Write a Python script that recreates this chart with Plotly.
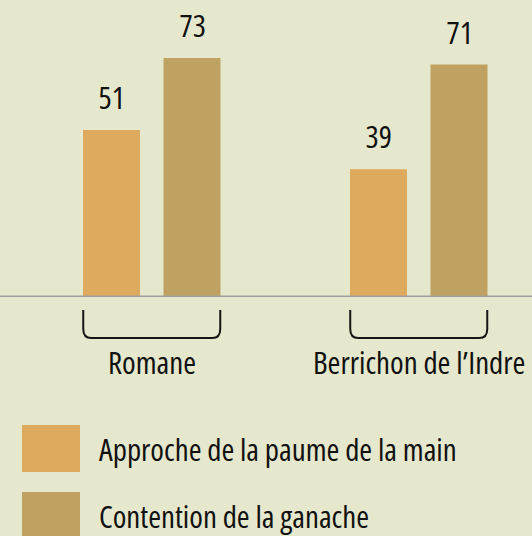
import plotly.graph_objects as go

categories = ["Romane", "Berrichon de l\u2019Indre"]
series_names = ["Approche de la paume de la main", "Contention de la ganache"]
approche = [51, 39]
contention = [73, 71]
series_values = [approche, contention]
colors = ["#DEAA5E", "#BFA262"]

W, H = 532, 536
FONT = "Open Sans"
FS = 31
TXT = dict(family=FONT, size=FS, color="#111111", weight=500)

fig = go.Figure()
for name, vals, col in zip(series_names, series_values, colors):
    fig.add_trace(go.Bar(x=categories, y=vals, name=name, marker=dict(color=col, line=dict(width=0)),
                         showlegend=False, hoverinfo="skip"))

offsets = [-40.25, 40.25]
for vals, off in zip(series_values, offsets):
    for c, v in zip(categories, vals):
        fig.add_annotation(x=c, y=v, xref="x", yref="y", text=str(v), showarrow=False,
                           xshift=off, yanchor="bottom", yshift=10, font=TXT)

fig.add_shape(type="line", xref="paper", yref="y", x0=0, x1=1, y0=0, y1=0,
              line=dict(color="#A0A0A0", width=3))

half = 0.2566
rx = 0.03
ytop = (H - 310) / H
ybot = (H - 338) / H
ry = 9 / H
for i, c in enumerate(categories):
    x0, x1 = i - half, i + half
    path = (f"M {x0},{ytop} L {x0},{ybot + ry} Q {x0},{ybot} {x0 + rx},{ybot} "
            f"L {x1 - rx},{ybot} Q {x1},{ybot} {x1},{ybot + ry} L {x1},{ytop}")
    fig.add_shape(type="path", path=path, xref="x", yref="paper",
                  line=dict(color="#151515", width=2))
    fig.add_annotation(x=c, y=(H - 362) / H, xref="x", yref="paper", text=c, showarrow=False,
                       yanchor="middle", font=TXT)

leg_rows = [(425, 472), (492, 540)]
for (t, b), name, col in zip(leg_rows, series_names, colors):
    fig.add_shape(type="rect", xref="paper", yref="paper", x0=22 / W, x1=80 / W,
                  y0=(H - b) / H, y1=(H - t) / H, fillcolor=col, line=dict(width=0))
    fig.add_annotation(x=97 / W, y=(H - (t + 24)) / H, xref="paper", yref="paper", text=name,
                       showarrow=False, xanchor="left", align="left", yanchor="middle", font=TXT)

cx0 = 151.75
unit = 267.0
fig.update_layout(
    width=W, height=H,
    margin=dict(l=0, r=0, t=0, b=0),
    paper_bgcolor="#E6E8CD", plot_bgcolor="#E6E8CD",
    barmode="group", bargap=0.397, bargroupgap=0.292,
    xaxis=dict(range=[-cx0 / unit, (W - cx0) / unit], showticklabels=False, showgrid=False,
               zeroline=False, showline=False, ticks=""),
    yaxis=dict(domain=[(H - 297) / H, 1], range=[0, 297 / 3.274], showticklabels=False,
               showgrid=False, zeroline=False, showline=False),
)

post = """
document.querySelectorAll('text.annotation-text').forEach(function(t){
  t.style.fontStretch = '75%';
});
"""
fig.write_html("out.html", post_script=post)
